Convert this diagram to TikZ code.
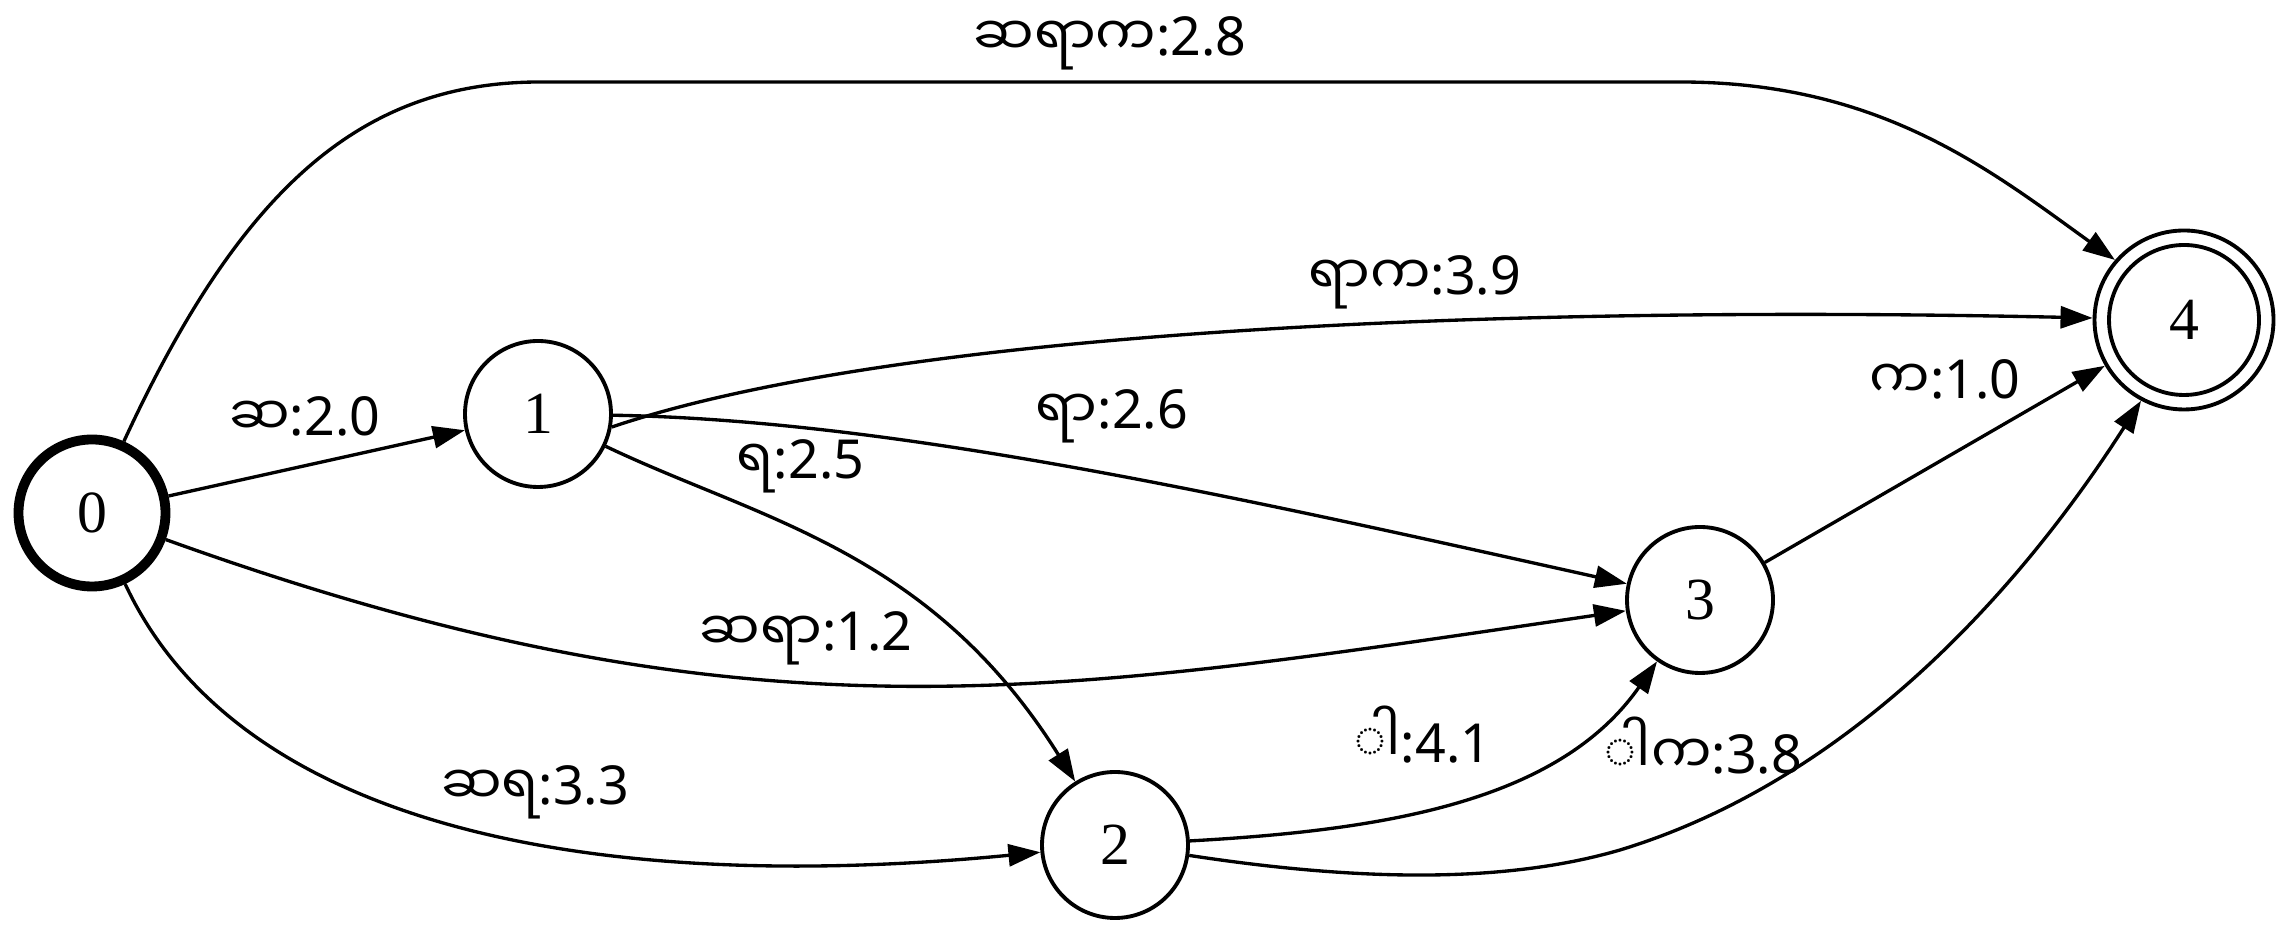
\documentclass[tikz,border=0pt]{standalone}
\usepackage{fontspec}
\setmainfont{Noto Sans}
\newfontfamily\mmfont[Script=Myanmar]{Noto Sans Myanmar UI}
\newfontfamily\numfont{Liberation Serif}
\usetikzlibrary{arrows.meta}
\newcommand{\arclbl}[2]{{\mmfont #1}:#2}

\begin{document}
\begin{tikzpicture}[
  stt/.style={draw, circle, line width=1.1pt, minimum size=1.46cm, inner sep=0pt,
              font=\numfont\fontsize{17}{20}\selectfont},
  init/.style={stt, line width=2.8pt, minimum size=1.47cm},
  final/.style={stt, minimum size=1.50cm, outer sep=0.165cm},
  arc/.style={-{Triangle[length=0.32cm,width=0.22cm]}, line width=0.95pt},
  lbl/.style={font=\fontsize{15.3}{18}\selectfont, inner sep=1pt},
]
\useasboundingbox (0,0) rectangle (22.92,9.30);

\node[init]  (q0) at (0.92,4.17)  {0};
\node[stt]   (q1) at (5.38,5.16)  {1};
\node[stt]   (q2) at (11.15,0.85) {2};
\node[stt]   (q3) at (17.00,3.30) {3};
\node[final] (q4) at (21.84,6.10) {4};
\draw[line width=1.1pt] (q4.center) circle (0.895);

\draw[arc] (q0) -- node[lbl, pos=0.46, yshift=0.49cm] {\arclbl{ဆ}{2.0}} (q1);
\draw[arc] (q0.66) .. controls (2.4,7.4) and (3.6,8.48) .. (5.4,8.48)
  -- node[lbl, pos=0.5, yshift=0.39cm] {\arclbl{ဆရာက}{2.8}} (16.8,8.48)
  .. controls (18.8,8.48) and (19.9,7.6) .. (q4.139);
\draw[arc] (q0) .. controls (7.5,1.8) and (10.5,2.35) .. (q3)
  node[lbl, pos=0.43, yshift=0.44cm] {\arclbl{ဆရာ}{1.2}};
\draw[arc] (q0) .. controls (2.4,1.0) and (6.0,0.35) .. (q2)
  node[lbl, pos=0.575, yshift=0.50cm] {\arclbl{ဆရ}{3.3}};

\draw[arc] (q1.350) .. controls (9,6.0) and (15,6.25) .. (q4)
  node[lbl, pos=0.61, yshift=0.40cm] {\arclbl{ရာက}{3.9}};
\draw[arc] (q1) .. controls (9,5.1) and (12.5,4.3) .. (q3)
  node[lbl, pos=0.525, yshift=0.58cm] {\arclbl{ရာ}{2.6}};
\draw[arc] (q1) .. controls (7.6,4.1) and (9.3,3.8) .. (q2)
  node[lbl, pos=0.41, yshift=0.65cm] {\arclbl{ရ}{2.5}};

\draw[arc] (q2) .. controls (13.9,1.0) and (15.6,1.3) .. (q3)
  node[lbl, pos=0.42, yshift=0.76cm] {\arclbl{◌ါ}{4.1}};
\draw[arc] (q2.352) .. controls (13.5,0.5) and (15.0,0.45) .. (16.2,0.8)
  .. controls (18.5,1.5) and (20.2,3.4) .. (q4.242)
  node[lbl, pos=0.125, yshift=0.73cm] {\arclbl{◌ါက}{3.8}};

\draw[arc] (q3) -- node[lbl, pos=0.53, yshift=0.79cm] {\arclbl{က}{1.0}} (q4);
\end{tikzpicture}
\end{document}
